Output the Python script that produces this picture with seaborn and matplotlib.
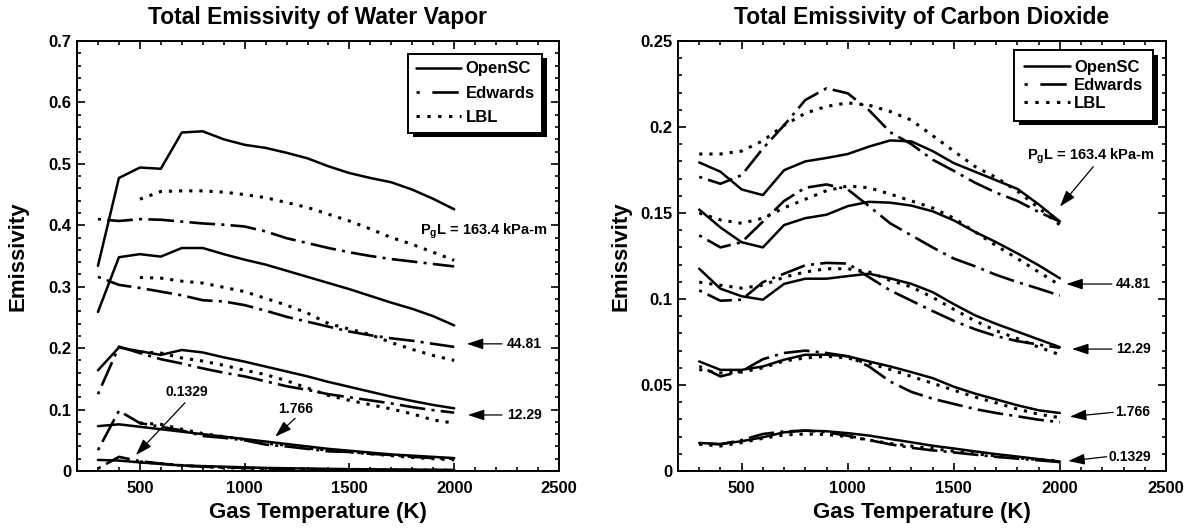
import numpy as np
import pandas as pd
import matplotlib
matplotlib.use("Agg")
import matplotlib.pyplot as plt
import seaborn as sns
from matplotlib.ticker import MultipleLocator, FuncFormatter
from matplotlib.lines import Line2D
from matplotlib.patches import Rectangle

# ---------------- data ----------------
T_ALL = [300, 400, 500, 600, 700, 800, 900, 1000, 1100, 1200, 1300, 1400, 1500, 1600, 1700, 1800, 1900, 2000]
T_LBL_H2O = T_ALL[2:]
PGL = ["163.4", "44.81", "12.29", "1.766", "0.1329"]
MODELS = ["OpenSC", "Edwards", "LBL"]

# Water vapor
H2O_OPENSC = {
    "163.4": [0.334, 0.477, 0.494, 0.492, 0.551, 0.553, 0.540, 0.531, 0.526, 0.518, 0.509, 0.496, 0.485, 0.477, 0.470, 0.458, 0.443, 0.426],
    "44.81": [0.259, 0.348, 0.353, 0.349, 0.363, 0.363, 0.353, 0.344, 0.336, 0.326, 0.316, 0.306, 0.296, 0.285, 0.274, 0.264, 0.252, 0.237],
    "12.29": [0.164, 0.201, 0.195, 0.189, 0.197, 0.193, 0.185, 0.178, 0.170, 0.162, 0.154, 0.145, 0.137, 0.129, 0.121, 0.114, 0.1075, 0.102],
    "1.766": [0.073, 0.076, 0.072, 0.068, 0.064, 0.060, 0.056, 0.052, 0.048, 0.044, 0.040, 0.036, 0.033, 0.030, 0.027, 0.025, 0.023, 0.021],
    "0.1329": [0.018, 0.017, 0.014, 0.0115, 0.009, 0.008, 0.007, 0.006, 0.005, 0.0045, 0.004, 0.0035, 0.003, 0.0028, 0.0025, 0.0022, 0.002, 0.0018],
}
H2O_EDWARDS = {
    "163.4": [0.410, 0.407, 0.410, 0.409, 0.406, 0.403, 0.401, 0.398, 0.390, 0.379, 0.371, 0.363, 0.356, 0.350, 0.345, 0.341, 0.337, 0.333],
    "44.81": [0.316, 0.303, 0.298, 0.292, 0.286, 0.278, 0.276, 0.270, 0.261, 0.251, 0.243, 0.235, 0.227, 0.221, 0.216, 0.212, 0.207, 0.202],
    "12.29": [0.125, 0.2025, 0.192, 0.182, 0.175, 0.167, 0.160, 0.154, 0.146, 0.138, 0.132, 0.125, 0.120, 0.115, 0.110, 0.104, 0.099, 0.095],
    "1.766": [0.034, 0.098, 0.078, 0.072, 0.066, 0.057, 0.054, 0.050, 0.043, 0.040, 0.036, 0.032, 0.031, 0.028, 0.026, 0.023, 0.021, 0.020],
    "0.1329": [0.004, 0.023, 0.016, 0.012, 0.009, 0.007, 0.006, 0.005, 0.004, 0.0035, 0.003, 0.0025, 0.002, 0.0018, 0.0015, 0.0013, 0.0012, 0.001],
}
H2O_LBL = {
    "163.4": [0.4425, 0.455, 0.456, 0.456, 0.454, 0.450, 0.445, 0.437, 0.429, 0.418, 0.407, 0.394, 0.380, 0.369, 0.356, 0.343],
    "44.81": [0.315, 0.314, 0.309, 0.306, 0.299, 0.292, 0.281, 0.270, 0.257, 0.240, 0.231, 0.222, 0.209, 0.198, 0.188, 0.180],
    "12.29": [0.194, 0.192, 0.184, 0.179, 0.172, 0.164, 0.157, 0.147, 0.135, 0.123, 0.115, 0.108, 0.101, 0.093, 0.083, 0.078],
    "1.766": [0.078, 0.076, 0.068, 0.061, 0.056, 0.051, 0.045, 0.042, 0.037, 0.034, 0.031, 0.028, 0.025, 0.022, 0.020, 0.018],
    "0.1329": [0.015, 0.012, 0.009, 0.007, 0.0055, 0.0045, 0.0038, 0.0032, 0.0027, 0.0023, 0.002, 0.0018, 0.0016, 0.0015, 0.0014, 0.0013],
}

# Carbon dioxide
CO2_OPENSC = {
    "163.4": [0.1794, 0.174, 0.1637, 0.1604, 0.1749, 0.180, 0.182, 0.1843, 0.1886, 0.1922, 0.1916, 0.186, 0.179, 0.174, 0.169, 0.164, 0.155, 0.145],
    "44.81": [0.152, 0.1416, 0.133, 0.130, 0.143, 0.147, 0.149, 0.154, 0.1565, 0.156, 0.1543, 0.151, 0.1457, 0.139, 0.133, 0.1265, 0.1196, 0.112],
    "12.29": [0.1176, 0.106, 0.1016, 0.0996, 0.1088, 0.1118, 0.1118, 0.1133, 0.1147, 0.112, 0.1088, 0.104, 0.097, 0.0905, 0.0855, 0.081, 0.0765, 0.072],
    "1.766": [0.0637, 0.0588, 0.0588, 0.0608, 0.0647, 0.0676, 0.0676, 0.0667, 0.0637, 0.0608, 0.0575, 0.054, 0.049, 0.045, 0.0416, 0.0382, 0.0353, 0.0337],
    "0.1329": [0.0163, 0.0157, 0.0173, 0.0196, 0.0225, 0.0235, 0.0231, 0.022, 0.0206, 0.0186, 0.0167, 0.0147, 0.0131, 0.0114, 0.0098, 0.0084, 0.0069, 0.0055],
}
CO2_EDWARDS = {
    "163.4": [0.171, 0.167, 0.172, 0.1875, 0.201, 0.2157, 0.2225, 0.2196, 0.2098, 0.197, 0.190, 0.181, 0.1745, 0.1676, 0.1618, 0.157, 0.1506, 0.145],
    "44.81": [0.137, 0.130, 0.133, 0.145, 0.157, 0.1647, 0.1666, 0.1637, 0.154, 0.144, 0.137, 0.130, 0.1235, 0.119, 0.114, 0.1098, 0.106, 0.102],
    "12.29": [0.105, 0.099, 0.0996, 0.1098, 0.1147, 0.1196, 0.121, 0.1206, 0.1127, 0.105, 0.099, 0.093, 0.0873, 0.0824, 0.0784, 0.0755, 0.0735, 0.0716],
    "1.766": [0.061, 0.055, 0.058, 0.065, 0.0686, 0.070, 0.0686, 0.0667, 0.0608, 0.052, 0.046, 0.042, 0.039, 0.036, 0.0337, 0.0318, 0.0298, 0.0284],
    "0.1329": [0.016, 0.0155, 0.018, 0.0215, 0.023, 0.0235, 0.0225, 0.0205, 0.018, 0.0155, 0.0135, 0.012, 0.0108, 0.0095, 0.0082, 0.0072, 0.0062, 0.0052],
}
CO2_LBL = {
    "163.4": [0.1843, 0.1843, 0.186, 0.192, 0.201, 0.208, 0.212, 0.214, 0.2127, 0.209, 0.204, 0.195, 0.186, 0.177, 0.1706, 0.1627, 0.153, 0.143],
    "44.81": [0.150, 0.146, 0.144, 0.147, 0.153, 0.158, 0.163, 0.1657, 0.1647, 0.161, 0.157, 0.153, 0.147, 0.139, 0.131, 0.1235, 0.1157, 0.108],
    "12.29": [0.1098, 0.108, 0.1063, 0.108, 0.1127, 0.1157, 0.1176, 0.1176, 0.1157, 0.1108, 0.107, 0.101, 0.094, 0.0873, 0.0815, 0.077, 0.072, 0.0676],
    "1.766": [0.059, 0.057, 0.0575, 0.060, 0.064, 0.0657, 0.0667, 0.0657, 0.0627, 0.059, 0.055, 0.051, 0.047, 0.043, 0.0396, 0.036, 0.033, 0.031],
    "0.1329": [0.0155, 0.0145, 0.0165, 0.019, 0.021, 0.0215, 0.0212, 0.020, 0.018, 0.016, 0.0145, 0.013, 0.0115, 0.010, 0.0088, 0.0077, 0.0066, 0.0057],
}

TITLES = ["Total Emissivity of Water Vapor", "Total Emissivity of Carbon Dioxide"]
XLABEL = "Gas Temperature (K)"
YLABEL = "Emissivity"
PGL_LABEL = r"P$_{\mathrm{g}}$L = 163.4 kPa-m"


def long_form(opensc, edwards, lbl, t_lbl):
    rows = []
    for p in PGL:
        for t, v in zip(T_ALL, opensc[p]):
            rows.append(("OpenSC", p, t, v))
        for t, v in zip(T_ALL, edwards[p]):
            rows.append(("Edwards", p, t, v))
        for t, v in zip(t_lbl, lbl[p]):
            rows.append(("LBL", p, t, v))
    return pd.DataFrame(rows, columns=["model", "PgL", "T", "eps"])


df_h2o = long_form(H2O_OPENSC, H2O_EDWARDS, H2O_LBL, T_LBL_H2O)
df_co2 = long_form(CO2_OPENSC, CO2_EDWARDS, CO2_LBL, T_ALL)

# ---------------- style ----------------
sns.set_style("ticks")
plt.rcParams["font.family"] = ["Liberation Sans", "DejaVu Sans"]
plt.rcParams["font.weight"] = "bold"
plt.rcParams["mathtext.fontset"] = "custom"
plt.rcParams["mathtext.rm"] = "Liberation Sans:bold"
plt.rcParams["mathtext.default"] = "rm"
plt.rcParams["lines.scale_dashes"] = False
plt.rcParams["axes.linewidth"] = 1.4
for key in ("text.color", "axes.labelcolor", "xtick.color", "ytick.color", "axes.edgecolor"):
    plt.rcParams[key] = "black"

DASHES = {"OpenSC": "", "Edwards": (2.2, 4.5, 18.5, 4.5), "LBL": (2.3, 5.0)}
SIZES = {"OpenSC": 1.8, "Edwards": 1.9, "LBL": 2.2}

fig = plt.figure(figsize=(11.95, 5.31), dpi=100)
ax1 = fig.add_axes([77 / 1195, 60 / 531, 482 / 1195, 430 / 531])
ax2 = fig.add_axes([678 / 1195, 60 / 531, 488 / 1195, 430 / 531])

for ax, df in ((ax1, df_h2o), (ax2, df_co2)):
    sns.lineplot(data=df, x="T", y="eps", style="model", units="PgL", estimator=None,
                 dashes=DASHES, size="model", sizes=SIZES, color="black",
                 legend=False, sort=True, ax=ax)

fmt = FuncFormatter(lambda v, p: f"{v:g}")
for ax, ymax, ymaj, ymin, title in ((ax1, 0.7, 0.1, 0.02, TITLES[0]),
                                    (ax2, 0.25, 0.05, 0.01, TITLES[1])):
    ax.set_xlim(200, 2500)
    ax.set_ylim(0, ymax)
    ax.xaxis.set_major_locator(MultipleLocator(500))
    ax.xaxis.set_minor_locator(MultipleLocator(100))
    ax.yaxis.set_major_locator(MultipleLocator(ymaj))
    ax.yaxis.set_minor_locator(MultipleLocator(ymin))
    ax.yaxis.set_major_formatter(fmt)
    ax.tick_params(which="both", direction="in", top=True, right=True, width=1.2,
                   labelsize=12, color="black", labelcolor="black")
    ax.tick_params(which="major", length=5.5)
    ax.tick_params(which="minor", length=3)
    ax.tick_params(axis="x", pad=7)
    ax.tick_params(axis="y", pad=4)
    for lab in ax.get_xticklabels() + ax.get_yticklabels():
        lab.set_fontweight("bold")
    for s in ax.spines.values():
        s.set_visible(True)
        s.set_color("black")
        s.set_linewidth(1.4)
    ax.set_title(title, fontsize=16.5, fontweight="bold", pad=12, color="black")
    ax.set_xlabel(XLABEL, fontsize=16, fontweight="bold", color="black")
    ax.set_ylabel(YLABEL, fontsize=16, fontweight="bold", color="black")
    ax.xaxis.set_label_coords(0.5, -0.072)

ax1.yaxis.set_label_coords(-0.10, 0.5)
ax2.yaxis.set_label_coords(-0.096, 0.5)

# ---------------- annotations ----------------
ARW = dict(arrowstyle="-|>,head_length=1.0,head_width=0.33", color="black", lw=0.9,
           shrinkA=0, shrinkB=0, mutation_scale=10)


def arrow(ax, head, tail):
    ax.annotate("", xy=head, xytext=tail, arrowprops=ARW, annotation_clip=False)


def label(ax, x, y, s, ha="left", va="center", size=10):
    ax.text(x, y, s, ha=ha, va=va, fontsize=size, fontweight="bold", color="black")


label(ax1, 1838, 0.3844, PGL_LABEL, va="baseline", size=10.5)
arrow(ax1, (2060, 0.207), (2228, 0.207)); label(ax1, 2253, 0.207, "44.81")
arrow(ax1, (2065, 0.0912), (2228, 0.0912)); label(ax1, 2253, 0.0912, "12.29")
label(ax1, 725, 0.128, "0.1329", ha="center")
arrow(ax1, (481, 0.026), (715, 0.111))
label(ax1, 1241, 0.1005, "1.766", ha="center")
arrow(ax1, (1146, 0.0559), (1241, 0.0858))

label(ax2, 1843, 0.1808, PGL_LABEL, va="baseline", size=10.5)
arrow(ax2, (2000, 0.1537), (2157, 0.1769))
arrow(ax2, (2030, 0.1087), (2245, 0.1087)); label(ax2, 2264, 0.1087, "44.81")
arrow(ax2, (2057, 0.0709), (2245, 0.0709)); label(ax2, 2264, 0.0709, "12.29")
arrow(ax2, (2047, 0.0316), (2251, 0.0341)); label(ax2, 2259, 0.0342, "1.766")
arrow(ax2, (2039, 0.0058), (2220, 0.0083)); label(ax2, 2228, 0.0080, "0.1329")

# ---------------- legends ----------------
handles = [
    Line2D([], [], color="black", lw=SIZES["OpenSC"], linestyle="-"),
    Line2D([], [], color="black", lw=SIZES["Edwards"], linestyle=(0, (2.4, 9.0, 19.0, 3.0))),
    Line2D([], [], color="black", lw=SIZES["LBL"], linestyle=(0, (2.4, 5.4))),
]

legs = []
for ax, anchor, lspace, bpad in ((ax1, (0.965, 0.970), 0.56, 0.45),
                                 (ax2, (0.974, 0.979), 0.17, 0.6)):
    leg = ax.legend(handles, MODELS, loc="upper right", bbox_to_anchor=anchor,
                    borderaxespad=0, frameon=True, fancybox=False, shadow=False,
                    prop={"size": 12, "weight": "bold"}, handlelength=2.75,
                    handletextpad=0.25, labelspacing=lspace, borderpad=bpad)
    for txt in leg.get_texts():
        txt.set_color("black")
    fr = leg.get_frame()
    fr.set_edgecolor("black")
    fr.set_linewidth(1.4)
    fr.set_facecolor("white")
    fr.set_alpha(1)
    leg.set_zorder(6)
    legs.append((ax, leg))

fig.canvas.draw()
for ax, leg in legs:
    bb = leg.get_window_extent().transformed(ax.transAxes.inverted())
    w_px = ax.get_window_extent().width
    h_px = ax.get_window_extent().height
    dx, dy = 4.5 / w_px, 4.5 / h_px
    ax.add_patch(Rectangle((bb.x0 + dx, bb.y0 - dy), bb.width, bb.height,
                           transform=ax.transAxes, facecolor="black", edgecolor="none",
                           zorder=5.5, clip_on=False))

fig.savefig("out.png", dpi=100)
